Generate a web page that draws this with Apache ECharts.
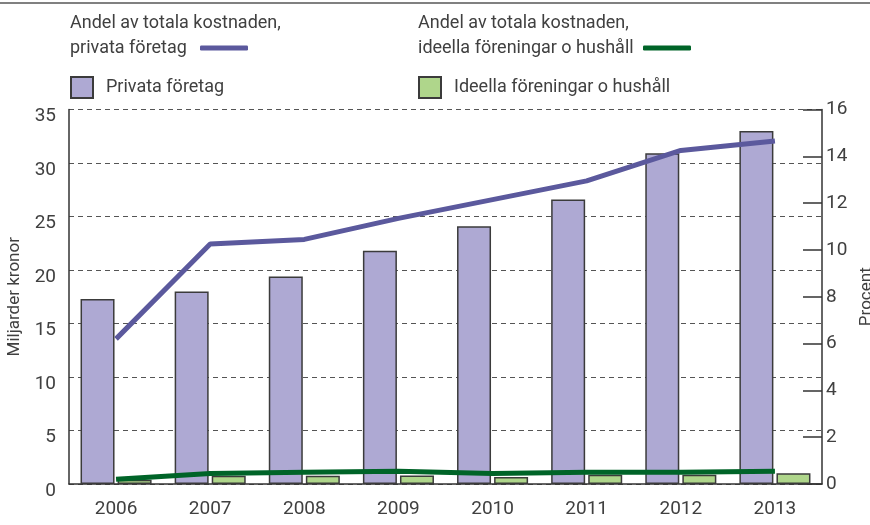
<!DOCTYPE html>
<html>
<head>
<meta charset="utf-8">
<script src="https://cdn.jsdelivr.net/npm/echarts@6/dist/echarts.min.js"></script>
<style>
  html, body { margin: 0; padding: 0; background: #fff; }
  #main { width: 870px; height: 525px; }
</style>
</head>
<body>
<div id="main"></div>
<script>
// årtal
var years = ['2006', '2007', '2008', '2009', '2010', '2011', '2012', '2013'];
// miljarder kronor (staplar)
var privataKr = [17.3, 18.0, 19.4, 21.8, 24.1, 26.6, 30.9, 33.0];
var ideellaKr = [0.4, 0.78, 0.78, 0.8, 0.65, 0.87, 0.87, 1.0];
// procent av totala kostnaden (linjer)
var privataAndel = [6.2, 10.25, 10.45, 11.35, 12.15, 12.95, 14.25, 14.65];
var ideellaAndel = [0.2, 0.45, 0.5, 0.55, 0.45, 0.5, 0.5, 0.55];

var FONT = 'Roboto, "Noto Sans", sans-serif';
var TXT = '#404040';

var nameBarP = 'Privata företag';
var nameBarI = 'Ideella föreningar o hushåll';
var nameLineP = 'Andel av totala kostnaden, privata företag';
var nameLineI = 'Andel av totala kostnaden, ideella föreningar o hushåll';

// tvåradig legendtext, ikonen hamnar efter andra raden
function twoLines(name) {
  var p = name.split(', ');
  return '{t|' + p[0] + ',}\n{t|' + p[1] + '}\n{t| }';
}
function lineLegend(name, left, w) {
  return {
    data: [name],
    left: left,
    top: 14,
    padding: 0,
    align: 'right',
    icon: 'roundRect',
    itemWidth: 48,
    itemHeight: 5,
    formatter: twoLines,
    textStyle: {
      rich: {
        t: { width: w, align: 'left', fontSize: 18, lineHeight: 25, fontFamily: FONT, color: TXT }
      }
    }
  };
}
function barLegend(name, left) {
  return {
    data: [name],
    left: left,
    top: 76,
    padding: 0,
    icon: 'rect',
    itemWidth: 22,
    itemHeight: 21,
    textStyle: { fontSize: 18, fontFamily: FONT, color: TXT, padding: [0, 0, 0, 8] }
  };
}

var chart = echarts.init(document.getElementById('main'));

var option = {
  backgroundColor: '#fff',
  animation: false,
  textStyle: { fontFamily: FONT },
  graphic: [{
    type: 'line',
    shape: { x1: 0, y1: 3, x2: 870, y2: 3 },
    style: { stroke: '#808080', lineWidth: 2 }
  }],
  legend: [
    lineLegend(nameLineP, 70, 125),
    lineLegend(nameLineI, 418, 220),
    barLegend(nameBarP, 70),
    barLegend(nameBarI, 418)
  ],
  grid: { left: 69, right: 48, top: 109.5, bottom: 41, outerBoundsMode: 'none' },
  xAxis: {
    type: 'category',
    data: years,
    axisLine: { lineStyle: { color: '#333', width: 1.5 } },
    axisTick: { show: false },
    axisLabel: { fontSize: 19, color: TXT, margin: 16, fontFamily: FONT }
  },
  yAxis: [{
    type: 'value',
    min: 0, max: 35, interval: 5,
    name: 'Miljarder kronor',
    nameLocation: 'middle',
    nameGap: 41,
    nameRotate: 90,
    nameTextStyle: { fontSize: 17, color: TXT, fontFamily: FONT },
    axisLine: { show: true, lineStyle: { color: '#333', width: 1.5 } },
    axisTick: { show: false },
    axisLabel: { fontSize: 19, color: TXT, margin: 13, verticalAlign: 'top', lineHeight: 14, fontFamily: FONT },
    splitLine: { lineStyle: { color: '#555', type: [5, 4], width: 1 } }
  }, {
    type: 'value',
    min: 0, max: 16, interval: 2,
    position: 'right',
    name: 'Procent',
    nameLocation: 'middle',
    nameGap: 28,
    nameRotate: 90,
    nameTextStyle: { fontSize: 17, color: TXT, fontFamily: FONT },
    axisLine: { show: true, lineStyle: { color: '#333', width: 1.5 } },
    axisTick: { show: true, inside: true, length: 19, lineStyle: { color: '#333', width: 1.5 } },
    axisLabel: { fontSize: 19, color: TXT, margin: 4, fontFamily: FONT },
    splitLine: { show: false }
  }],
  series: [{
    name: nameBarP,
    type: 'bar',
    data: privataKr,
    barWidth: 34,
    barGap: '9%',
    itemStyle: { color: '#aea9d3', borderColor: '#3b3b3b', borderWidth: 1.5 }
  }, {
    name: nameBarI,
    type: 'bar',
    data: ideellaKr,
    barWidth: 34,
    barGap: '9%',
    itemStyle: { color: '#afd68b', borderColor: '#3b3b3b', borderWidth: 1.5 }
  }, {
    name: nameLineP,
    type: 'line',
    yAxisIndex: 1,
    data: privataAndel,
    symbol: 'none',
    lineStyle: { color: '#5b599d', width: 5 },
    itemStyle: { color: '#5b599d' },
    z: 5
  }, {
    name: nameLineI,
    type: 'line',
    yAxisIndex: 1,
    data: ideellaAndel,
    symbol: 'none',
    lineStyle: { color: '#006428', width: 5 },
    itemStyle: { color: '#006428' },
    z: 5
  }]
};

chart.setOption(option);
</script>
</body>
</html>
